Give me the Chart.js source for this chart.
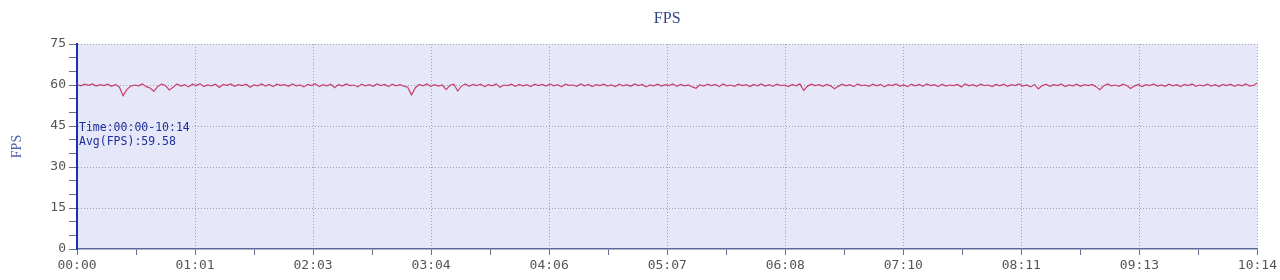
<!DOCTYPE html>
<html>
<head>
<meta charset="utf-8">
<title>FPS</title>
<script src="https://cdn.jsdelivr.net/npm/chart.js@4.4.0/dist/chart.umd.min.js"></script>
<style>
    html, body { margin: 0; padding: 0; background: #ffffff; }
    #wrap { width: 1280px; height: 280px; }
</style>
</head>
<body>
<div id="wrap"><canvas id="fpsChart" width="1280" height="280"></canvas></div>
<script>
// session length in seconds (00:00 - 10:14)
const totalSeconds = 614;
const sampleStep = 2;

const xTickLabels = ["00:00", "01:01", "02:03", "03:04", "04:06", "05:07", "06:08", "07:10", "08:11", "09:13", "10:14"];
const yTickLabels = [0, 15, 30, 45, 60, 75];

// fps sampled every 2 s (0 .. 614 s)
const fpsValues = [
    60.2, 59.7, 60.3, 59.9, 60.4, 59.6, 60.1, 59.8, 60.3, 59.5, 60.2, 59.3, 56.1, 58.4, 59.6, 60.0, 59.7, 60.4, 59.4, 58.9,
    57.7, 59.5, 60.3, 59.8, 58.2, 59.2, 60.4, 59.6, 60.1, 59.3, 60.3, 59.8, 60.5, 59.4, 60.0, 59.7, 60.3, 59.1, 60.2, 59.9,
    60.4, 59.5, 60.1, 59.8, 60.3, 59.2, 60.0, 59.7, 60.4, 59.6, 60.2, 59.4, 60.3, 59.9, 60.1, 59.5, 60.4, 59.7, 60.0, 59.3,
    60.2, 59.8, 60.5, 59.4, 60.1, 59.7, 60.3, 59.0, 60.2, 59.6, 60.4, 59.8, 60.0, 59.3, 60.3, 59.7, 60.1, 59.5, 60.4, 59.8,
    60.2, 59.4, 60.3, 59.7, 60.1, 59.6, 59.2, 56.4, 59.0, 60.2, 59.7, 60.4, 59.5, 60.1, 59.6, 60.0, 58.3, 59.9, 60.3, 57.8,
    59.6, 60.4, 59.5, 60.2, 59.8, 60.3, 59.4, 60.1, 59.7, 60.4, 59.2, 60.0, 59.8, 60.3, 59.5, 60.2, 59.7, 60.1, 59.4, 60.3,
    59.8, 60.2, 59.6, 60.4, 59.7, 60.1, 59.3, 60.3, 59.9, 60.0, 59.5, 60.4, 59.7, 60.2, 59.4, 60.1, 59.8, 60.3, 59.6, 60.0,
    59.4, 60.3, 59.7, 60.1, 59.5, 60.4, 59.8, 60.2, 59.3, 60.0, 59.7, 60.3, 59.6, 60.1, 59.8, 60.4, 59.5, 60.2, 59.7, 60.0,
    59.3, 58.8, 60.1, 59.6, 60.3, 59.8, 60.2, 59.4, 60.4, 59.7, 60.0, 59.5, 60.3, 59.8, 60.1, 59.4, 60.2, 59.7, 60.4, 59.6,
    60.1, 59.5, 60.3, 59.8, 60.0, 59.4, 60.2, 59.7, 60.4, 58.0, 59.6, 60.3, 59.8, 60.1, 59.5, 60.2, 59.7, 58.6, 59.5, 60.3,
    59.7, 60.1, 59.4, 60.4, 59.8, 60.0, 59.5, 60.3, 59.7, 60.2, 59.3, 60.1, 59.8, 60.4, 59.6, 60.0, 59.4, 60.3, 59.7, 60.2,
    59.5, 60.4, 59.8, 60.1, 59.4, 60.3, 59.6, 60.0, 59.8, 60.2, 59.3, 60.4, 59.7, 60.1, 59.5, 60.3, 59.8, 60.0, 59.4, 60.2,
    59.7, 60.3, 59.5, 60.1, 59.8, 60.4, 59.6, 60.0, 59.3, 60.2, 58.6, 59.7, 60.3, 59.5, 60.1, 59.8, 60.4, 59.4, 60.0, 59.7,
    60.3, 59.5, 60.1, 59.8, 60.2, 59.4, 58.3, 59.6, 60.4, 59.7, 60.0, 59.5, 60.3, 59.8, 58.7, 59.6, 60.2, 59.4, 60.1, 59.8,
    60.4, 59.6, 60.0, 59.5, 60.3, 59.7, 60.1, 59.4, 60.2, 59.8, 60.4, 59.5, 60.0, 59.7, 60.3, 59.6, 60.1, 59.4, 60.2, 59.8,
    60.3, 59.5, 60.1, 59.7, 60.4, 59.6, 59.9, 60.7
];

const avgFps = "59.58";
const timeRange = "00:00-10:14";

const points = fpsValues.map((v, i) => ({
    x: Math.min(i * sampleStep, totalSeconds),
    y: v
}));

// background of plot area, title and the little info text
const decor = {
    id: "decor",
    beforeDraw(chart) {
        const { ctx, chartArea } = chart;
        ctx.save();
        ctx.fillStyle = "#e6e8fa";
        ctx.fillRect(chartArea.left, chartArea.top, chartArea.right - chartArea.left, chartArea.bottom - chartArea.top);
        ctx.restore();
    },
    afterDraw(chart) {
        const { ctx, chartArea } = chart;
        const y = chart.scales.y;
        ctx.save();
        ctx.fillStyle = "#2f4686";
        ctx.font = "16px 'Liberation Serif', 'DejaVu Serif', serif";
        ctx.textAlign = "center";
        ctx.textBaseline = "middle";
        ctx.fillText("FPS", (chartArea.left + chartArea.right) / 2, 19);

        ctx.fillStyle = "#1e2f9c";
        ctx.font = "11.5px 'DejaVu Sans Mono', monospace";
        ctx.textAlign = "left";
        const y0 = y.getPixelForValue(45) + 2;
        ctx.fillText("Time:" + timeRange, chartArea.left + 2, y0);
        ctx.fillText("Avg(FPS):" + avgFps, chartArea.left + 2, y0 + 14);
        ctx.restore();
    }
};

const ctx = document.getElementById("fpsChart").getContext("2d");

new Chart(ctx, {
    type: "line",
    data: {
        datasets: [{
            label: "FPS",
            data: points,
            borderColor: "#c8406c",
            borderWidth: 1.2,
            pointRadius: 0,
            tension: 0,
            fill: false
        }]
    },
    options: {
        responsive: false,
        animation: false,
        layout: { padding: { top: 44, right: 20, left: 0, bottom: 0 } },
        plugins: {
            legend: { display: false },
            title: { display: false },
            tooltip: { enabled: false }
        },
        scales: {
            x: {
                type: "linear",
                min: 0,
                max: totalSeconds,
                afterBuildTicks: scale => {
                    const t = [];
                    for (let i = 0; i <= 20; i++) t.push({ value: i * totalSeconds / 20 });
                    scale.ticks = t;
                },
                afterFit: scale => { scale.height = 31; },
                ticks: {
                    autoSkip: false,
                    maxRotation: 0,
                    padding: 3,
                    color: "#555555",
                    font: { family: "'DejaVu Sans Mono', monospace", size: 13 },
                    callback: (value, index) => index % 2 === 0 ? xTickLabels[index / 2] : ""
                },
                grid: {
                    color: c => (c.index % 2 === 0 && c.index > 0) ? "#9ea2b8" : "rgba(0,0,0,0)",
                    tickColor: "#6a6f88",
                    tickLength: 6,
                    lineWidth: 1
                },
                border: { color: "#5a6a9c", width: 1.5, dash: [1, 2] }
            },
            y: {
                min: 0,
                max: 75,
                afterBuildTicks: scale => {
                    const t = [];
                    for (let v = 0; v <= 75; v += 5) t.push({ value: v });
                    scale.ticks = t;
                },
                afterFit: scale => { scale.width = 77; },
                ticks: {
                    autoSkip: false,
                    padding: 3,
                    color: "#555555",
                    font: { family: "'DejaVu Sans Mono', monospace", size: 13 },
                    callback: value => yTickLabels.includes(value) ? String(value) : ""
                },
                grid: {
                    color: c => (c.tick && c.tick.value % 15 === 0 && c.tick.value > 0) ? "#9ea2b8" : "rgba(0,0,0,0)",
                    tickColor: "#6a6f88",
                    tickLength: 8,
                    lineWidth: 1
                },
                border: { color: "#1f2fb0", width: 2, dash: [1, 2] },
                title: {
                    display: true,
                    text: "FPS",
                    color: "#5566aa",
                    font: { family: "'Liberation Serif', 'DejaVu Serif', serif", size: 14 },
                    padding: { top: 9, bottom: 4 }
                }
            }
        }
    },
    plugins: [decor]
});
</script>
</body>
</html>
